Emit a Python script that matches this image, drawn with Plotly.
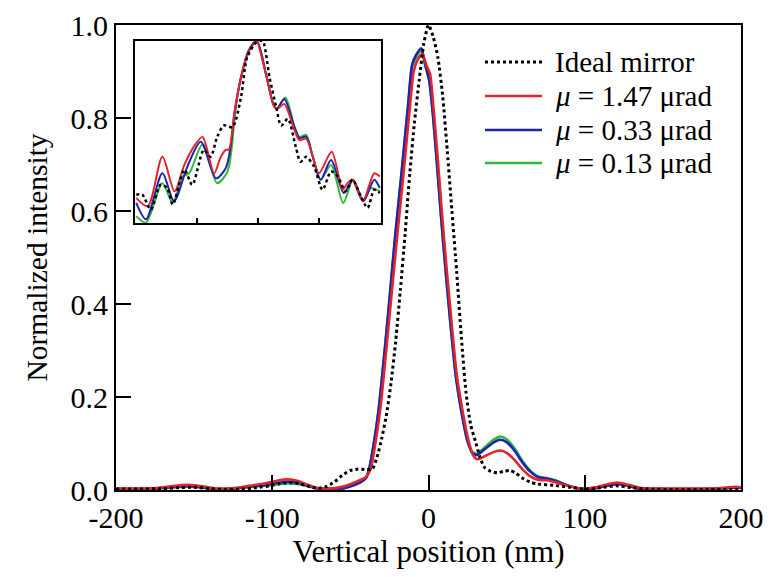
import plotly.graph_objects as go

# ---------------- main data (nm, normalized intensity) ----------------
ideal_x = [-200,-185,-170,-160,-150,-140,-130,-120,-110,-100,-95,-90,-85,-80,-75,-70,-65,-60,-55,-50,-45,-40,-36,-33,-30,-27,-24,-21,-18,-15,-12,-9,-6,-3,0,3,6,9,12,15,18,21,24,27,30,33,36,40,44,48,52,56,60,65,70,80,90,100,110,120,130,140,160,180,200]
ideal_y = [0.002,0.002,0.003,0.005,0.006,0.003,0.001,0.002,0.005,0.010,0.014,0.016,0.015,0.011,0.006,0.004,0.008,0.018,0.032,0.042,0.045,0.044,0.045,0.07,0.11,0.16,0.23,0.32,0.43,0.55,0.68,0.79,0.88,0.96,1.0,0.975,0.93,0.85,0.73,0.60,0.47,0.33,0.21,0.14,0.105,0.07,0.048,0.040,0.037,0.040,0.042,0.036,0.026,0.017,0.013,0.010,0.006,0.002,0.005,0.009,0.005,0.002,0.001,0.001,0.001]

red_x = [-200,-185,-175,-165,-155,-145,-135,-125,-115,-105,-97,-90,-84,-78,-72,-66,-60,-54,-48,-44,-40,-37,-34,-31,-28.5,-24.5,-20.5,-16,-12,-9.5,-7,-4,-1.5,1,3,5.5,8.5,11.5,14.5,18,21.5,25.5,28.5,31,34,38,42,46,50,55,60,65,70,76,82,88,94,100,107,114,121,128,135,145,160,175,190,196,200]
red_y = [0.003,0.003,0.004,0.008,0.011,0.008,0.003,0.004,0.009,0.014,0.020,0.023,0.020,0.012,0.005,0.003,0.004,0.008,0.015,0.021,0.028,0.045,0.10,0.17,0.25,0.39,0.53,0.68,0.82,0.90,0.925,0.938,0.915,0.895,0.83,0.73,0.60,0.48,0.37,0.25,0.176,0.108,0.075,0.066,0.069,0.076,0.082,0.085,0.080,0.065,0.045,0.030,0.022,0.021,0.016,0.010,0.005,0.003,0.006,0.012,0.016,0.011,0.005,0.003,0.003,0.003,0.005,0.007,0.006]

blue_x = [-200,-185,-175,-165,-155,-145,-135,-125,-115,-105,-97,-90,-84,-78,-72,-66,-60,-54,-48,-44,-40,-38,-35,-32,-29.5,-25.5,-21.5,-17,-13,-10.5,-8,-4.7,-2,0.5,2.5,5,8,11,14,17.5,21,25,28,31,34,38,42,46,50,55,60,65,70,76,82,88,94,100,107,114,121,128,135,145,160,175,190,196,200]
blue_y = [0.002,0.002,0.003,0.006,0.008,0.006,0.002,0.003,0.007,0.011,0.015,0.018,0.016,0.010,0.004,0.002,0.002,0.004,0.010,0.016,0.026,0.045,0.10,0.17,0.25,0.39,0.54,0.69,0.83,0.915,0.935,0.95,0.915,0.88,0.82,0.72,0.59,0.47,0.36,0.245,0.17,0.105,0.08,0.075,0.082,0.093,0.103,0.108,0.103,0.085,0.060,0.040,0.028,0.024,0.019,0.011,0.005,0.002,0.004,0.009,0.013,0.009,0.003,0.002,0.002,0.002,0.004,0.005,0.005]

green_x = blue_x
green_y = [0.002,0.002,0.003,0.005,0.007,0.005,0.002,0.003,0.006,0.009,0.012,0.014,0.013,0.009,0.004,0.002,0.002,0.004,0.010,0.016,0.026,0.045,0.10,0.17,0.25,0.39,0.54,0.69,0.83,0.91,0.93,0.945,0.91,0.88,0.82,0.72,0.59,0.47,0.36,0.245,0.17,0.105,0.082,0.078,0.086,0.098,0.109,0.115,0.109,0.090,0.063,0.042,0.029,0.025,0.020,0.011,0.005,0.002,0.004,0.009,0.013,0.009,0.003,0.002,0.002,0.002,0.004,0.005,0.005]

# ---------------- inset data (relative units) ----------------
in_red_x = [-2.00,-1.81,-1.57,-1.37,-1.21,-1.02,-0.91,-0.72,-0.61,-0.53,-0.48,-0.45,-0.39,-0.28,-0.15,-0.04,-0.02,0.13,0.27,0.32,0.43,0.60,0.68,0.79,0.90,1.00,1.21,1.39,1.47,1.55,1.72,1.91,2.00]
in_red_y = [0.138,0.092,0.364,0.174,0.319,0.436,0.473,0.273,0.364,0.402,0.402,0.436,0.599,0.799,0.944,0.995,1.0,0.817,0.636,0.627,0.654,0.509,0.455,0.464,0.364,0.273,0.391,0.183,0.219,0.238,0.120,0.273,0.255]

in_blue_x = [-2.00,-1.84,-1.57,-1.38,-1.16,-0.94,-0.69,-0.53,-0.45,-0.39,-0.28,-0.15,-0.02,0.13,0.25,0.31,0.43,0.60,0.68,0.79,0.90,1.03,1.20,1.41,1.56,1.73,1.91,2.00]
in_blue_y = [0.110,0.020,0.273,0.120,0.310,0.446,0.246,0.301,0.418,0.592,0.799,0.951,1.0,0.821,0.652,0.627,0.681,0.527,0.467,0.474,0.364,0.238,0.346,0.165,0.238,0.120,0.238,0.192]

in_green_x = [-2.00,-1.84,-1.57,-1.40,-1.24,-1.13,-0.91,-0.67,-0.50,-0.43,-0.38,-0.28,-0.14,-0.02,0.13,0.25,0.31,0.45,0.60,0.68,0.79,0.90,1.03,1.20,1.40,1.56,1.73,1.85,2.00]
in_green_y = [0.038,0.002,0.219,0.110,0.255,0.273,0.433,0.219,0.283,0.418,0.592,0.799,0.951,1.0,0.821,0.658,0.627,0.690,0.527,0.473,0.484,0.364,0.238,0.319,0.110,0.238,0.120,0.192,0.174]

in_ideal_x = [-2.00,-1.90,-1.76,-1.60,-1.49,-1.40,-1.21,-1.08,-0.89,-0.78,-0.67,-0.56,-0.42,-0.28,-0.18,-0.04,0.03,0.08,0.19,0.30,0.38,0.49,0.62,0.70,0.79,0.92,1.06,1.20,1.31,1.44,1.55,1.69,1.80,1.91,2.00]
in_ideal_y = [0.156,0.156,0.074,0.210,0.192,0.102,0.292,0.210,0.401,0.364,0.473,0.536,0.527,0.690,0.908,0.989,1.0,0.998,0.799,0.636,0.536,0.572,0.418,0.337,0.364,0.310,0.183,0.283,0.255,0.174,0.238,0.147,0.083,0.183,0.165]

x_ticks = [-200, -100, 0, 100, 200]
x_ticktext = ["-200", "-100", "0", "100", "200"]
y_ticks = [0.0, 0.2, 0.4, 0.6, 0.8, 1.0]
names = ["Ideal mirror", "<i>μ</i> = 1.47 μrad", "<i>μ</i> = 0.33 μrad", "<i>μ</i> = 0.13 μrad"]

RED = "#e2242b"
BLUE = "#1c22b4"
GREEN = "#2fb935"
FONT = "Liberation Serif"
colors = ["black", RED, BLUE, GREEN]
dashes = ["dot", "solid", "solid", "solid"]

fig = go.Figure()
# draw order: green, blue, red, ideal
fig.add_trace(go.Scatter(x=green_x, y=green_y, mode="lines", name=names[3], showlegend=False,
                         line=dict(color=GREEN, width=2.6, shape="spline", smoothing=0.6)))
fig.add_trace(go.Scatter(x=blue_x, y=blue_y, mode="lines", name=names[2], showlegend=False,
                         line=dict(color=BLUE, width=2.6, shape="spline", smoothing=0.6)))
fig.add_trace(go.Scatter(x=red_x, y=red_y, mode="lines", name=names[1], showlegend=False,
                         line=dict(color=RED, width=2.6, shape="spline", smoothing=0.6)))
fig.add_trace(go.Scatter(x=ideal_x, y=ideal_y, mode="lines", name=names[0], showlegend=False,
                         line=dict(color="black", width=3, dash="dot", shape="spline", smoothing=0.6)))

# inset
fig.add_trace(go.Scatter(x=in_green_x, y=in_green_y, mode="lines", showlegend=False,
                         line=dict(color=GREEN, width=2, shape="spline", smoothing=0.8), xaxis="x2", yaxis="y2"))
fig.add_trace(go.Scatter(x=in_blue_x, y=in_blue_y, mode="lines", showlegend=False,
                         line=dict(color=BLUE, width=2, shape="spline", smoothing=0.8), xaxis="x2", yaxis="y2"))
fig.add_trace(go.Scatter(x=in_red_x, y=in_red_y, mode="lines", showlegend=False,
                         line=dict(color=RED, width=2, shape="spline", smoothing=0.8), xaxis="x2", yaxis="y2"))
fig.add_trace(go.Scatter(x=in_ideal_x, y=in_ideal_y, mode="lines", showlegend=False,
                         line=dict(color="black", width=2.5, dash="dot", shape="spline", smoothing=0.8),
                         xaxis="x2", yaxis="y2"))

# page geometry: body has an 8px default margin
OFF = 8
W, H = 773 - 2 * OFF, 577 - 2 * OFF
PL, PR, PT, PB = 116, 741, 25, 490          # plot-area edges in page pixels
PW, PH = float(PR - PL), float(PB - PT)

# legend drawn manually (line samples + text) in paper coordinates
leg_x0 = (485 - PL) / PW
leg_x1 = (542 - PL) / PW
leg_tx = (553 - PL) / PW
leg_rows = [62, 96, 130, 163]
shapes = []
annotations = []
for i, name in enumerate(names):
    yp = (PB - leg_rows[i]) / PH
    shapes.append(dict(type="line", xref="paper", yref="paper", x0=leg_x0, x1=leg_x1, y0=yp, y1=yp,
                       line=dict(color=colors[i], width=3 if i == 0 else 2.6, dash=dashes[i])))
    annotations.append(dict(xref="paper", yref="paper", x=leg_tx, y=yp, xanchor="left", yanchor="middle",
                            text=name, showarrow=False, font=dict(family=FONT, size=29, color="black")))

inset_x = [(135 - PL) / PW, (381 - PL) / PW]
inset_y = [(PB - 223) / PH, (PB - 41) / PH]

fig.update_layout(
    width=W, height=H,
    margin=dict(l=PL - OFF, r=W - (PR - OFF), t=PT - OFF, b=H - (PB - OFF)),
    paper_bgcolor="white", plot_bgcolor="white",
    font=dict(family=FONT, size=30, color="black"),
    showlegend=False,
    shapes=shapes,
    annotations=annotations,
    xaxis=dict(range=[-200, 200], tickvals=x_ticks, ticktext=x_ticktext, automargin=False,
               ticklabeloverflow="allow",
               ticks="inside", ticklen=15, tickwidth=2, tickcolor="black",
               showline=True, linewidth=2, linecolor="black", mirror=True,
               showgrid=False, zeroline=False,
               tickfont=dict(family=FONT, size=30),
               title=dict(text="Vertical position (nm)", font=dict(family=FONT, size=31), standoff=6)),
    yaxis=dict(range=[0, 1.0], tickvals=y_ticks, tickformat=".1f", automargin=False,
               ticklabeloverflow="allow",
               ticks="inside", ticklen=15, tickwidth=2, tickcolor="black",
               showline=True, linewidth=2, linecolor="black", mirror=True,
               showgrid=False, zeroline=False,
               tickfont=dict(family=FONT, size=30),
               title=dict(text="Normalized intensity", font=dict(family=FONT, size=29.5), standoff=14)),
    xaxis2=dict(domain=inset_x, anchor="y2", range=[-2.02, 2.02],
                tickvals=[-1, 0, 1], showticklabels=False,
                ticks="inside", ticklen=5, tickwidth=1.5, tickcolor="black",
                showline=True, linewidth=1.5, linecolor="black", mirror=True,
                showgrid=False, zeroline=False),
    yaxis2=dict(domain=inset_y, anchor="x2", range=[0, 1.0],
                showticklabels=False, ticks="",
                showline=True, linewidth=1.5, linecolor="black", mirror=True,
                showgrid=False, zeroline=False),
)

fig.write_html("out.html")
